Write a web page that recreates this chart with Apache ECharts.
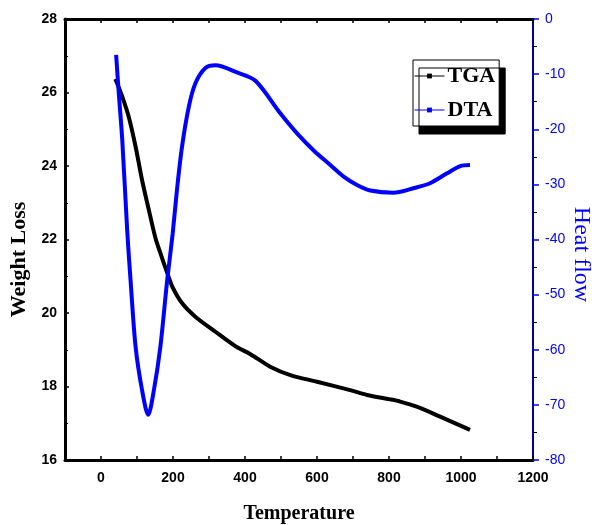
<!DOCTYPE html>
<html>
<head>
<meta charset="utf-8">
<script src="https://cdn.jsdelivr.net/npm/echarts@6/dist/echarts.min.js"></script>
<style>
  html, body { margin: 0; padding: 0; background: #fff; }
  #chart { width: 592px; height: 525px; }
</style>
</head>
<body>
<div id="chart"></div>
<script>
// TGA: weight loss vs temperature (left axis)
const tgaTemp = [40, 59, 77, 96, 114, 133, 151, 165, 184, 198, 225, 262, 318, 373, 415, 470, 526, 600, 692, 739, 803, 831, 877, 942, 1025]
const tgaWeight = [26.37, 25.89, 25.34, 24.53, 23.62, 22.8, 22.05, 21.63, 21.09, 20.72, 20.27, 19.9, 19.49, 19.1, 18.88, 18.54, 18.31, 18.13, 17.9, 17.77, 17.65, 17.59, 17.45, 17.18, 16.82]

// DTA: heat flow vs temperature (right axis)
const dtaTemp = [42, 50, 59, 73, 82, 96, 114, 131, 147, 165, 184, 199, 211, 225, 244, 262, 290, 318, 378, 429, 498, 544, 590, 637, 674, 711, 748, 812, 868, 914, 961, 998, 1025]
const dtaHeat = [-6.5, -14, -21.9, -38.6, -47.3, -59.4, -67.3, -71.8, -67.3, -59.4, -47.3, -39, -31, -23.2, -15.9, -11.7, -8.9, -8.4, -9.7, -11.2, -17.1, -20.7, -23.8, -26.5, -28.6, -30.1, -31.1, -31.5, -30.7, -29.8, -28, -26.7, -26.5]

// x tick labels: only every 200 is printed
const xTickLabels = [0, 200, 400, 600, 800, 1000, 1200]

const pair = (xs, ys) => xs.map((x, i) => [x, ys[i]])

const chart = echarts.init(document.getElementById("chart"))

const serif = "Liberation Serif"
const sans = "Liberation Sans"

const xCommon = {
  type: "value",
  min: -100,
  max: 1200,
  interval: 100,
  axisLine: { onZero: false, lineStyle: { color: "#000", width: 3 } },
  axisTick: { inside: true, length: 4, lineStyle: { color: "#000", width: 1.5 } },
  splitLine: { show: false },
}

chart.setOption({
  animation: false,
  grid: { left: 65, right: 59, top: 19, bottom: 65, containLabel: false, outerBoundsMode: "none" },
  legend: {
    left: 413,
    top: 60,
    orient: "vertical",
    backgroundColor: "#fff",
    borderColor: "#000",
    borderWidth: 1,
    shadowColor: "#000",
    shadowBlur: 0,
    shadowOffsetX: 6,
    shadowOffsetY: 8,
    padding: [5, 4, 5, 1],
    itemGap: 12,
    itemWidth: 30,
    itemHeight: 6,
    textStyle: { fontFamily: serif, fontWeight: "bold", fontSize: 22, color: "#000", padding: [0, 0, 0, -2] },
    lineStyle: { width: 1 },
    data: ["TGA", "DTA"],
  },
  xAxis: [
    {
      ...xCommon,
      name: "Temperature",
      nameLocation: "middle",
      nameGap: 44,
      nameTextStyle: { fontFamily: serif, fontWeight: "bold", fontSize: 20, color: "#000" },
      axisLabel: {
        fontFamily: sans,
        fontWeight: "bold",
        fontSize: 14,
        color: "#000",
        margin: 11,
        formatter: (v) => (xTickLabels.includes(v) ? String(v) : ""),
      },
    },
    {
      ...xCommon,
      position: "top",
      axisLabel: { show: false },
    },
  ],
  yAxis: [
    {
      type: "value",
      min: 16,
      max: 28,
      interval: 2,
      name: "Weight Loss",
      nameLocation: "middle",
      nameGap: 33,
      nameTextStyle: { fontFamily: serif, fontWeight: "bold", fontSize: 22, color: "#000", padding: [0, 40, 0, 0] },
      axisLine: { onZero: false, lineStyle: { color: "#000", width: 3 } },
      axisTick: { inside: true, length: 4, lineStyle: { color: "#000", width: 1.5 } },
      minorTick: { show: true, splitNumber: 2, length: 3, lineStyle: { color: "#000" } },
      axisLabel: { fontFamily: sans, fontWeight: "bold", fontSize: 14, color: "#000", margin: 8 },
      splitLine: { show: false },
    },
    {
      type: "value",
      position: "right",
      min: -80,
      max: 0,
      interval: 10,
      name: "Heat flow",
      nameLocation: "middle",
      nameRotate: -90,
      nameGap: 36,
      nameMoveOverlap: false,
      nameTextStyle: { fontFamily: serif, fontSize: 24, color: "#0000ff", padding: [0, 0, 0, 30] },
      axisLine: { onZero: false, lineStyle: { color: "#0000a0", width: 2 } },
      axisTick: { length: 6, lineStyle: { color: "#0000ff", width: 1.5 } },
      minorTick: { show: true, splitNumber: 2, length: 4, lineStyle: { color: "#000" } },
      axisLabel: { fontFamily: sans, fontSize: 14, color: "#0000ff", margin: 12 },
      splitLine: { show: false },
    },
  ],
  series: [
    {
      name: "TGA",
      type: "line",
      yAxisIndex: 0,
      data: pair(tgaTemp, tgaWeight),
      smooth: 0.3,
      showSymbol: false,
      symbol: "rect",
      symbolSize: 4,
      lineStyle: { color: "#000", width: 4 },
      itemStyle: { color: "#000" },
    },
    {
      name: "DTA",
      type: "line",
      yAxisIndex: 1,
      data: pair(dtaTemp, dtaHeat),
      smooth: 0.3,
      showSymbol: false,
      symbol: "rect",
      symbolSize: 4,
      lineStyle: { color: "#0000ff", width: 4 },
      itemStyle: { color: "#0000ff" },
    },
  ],
})
</script>
</body>
</html>
